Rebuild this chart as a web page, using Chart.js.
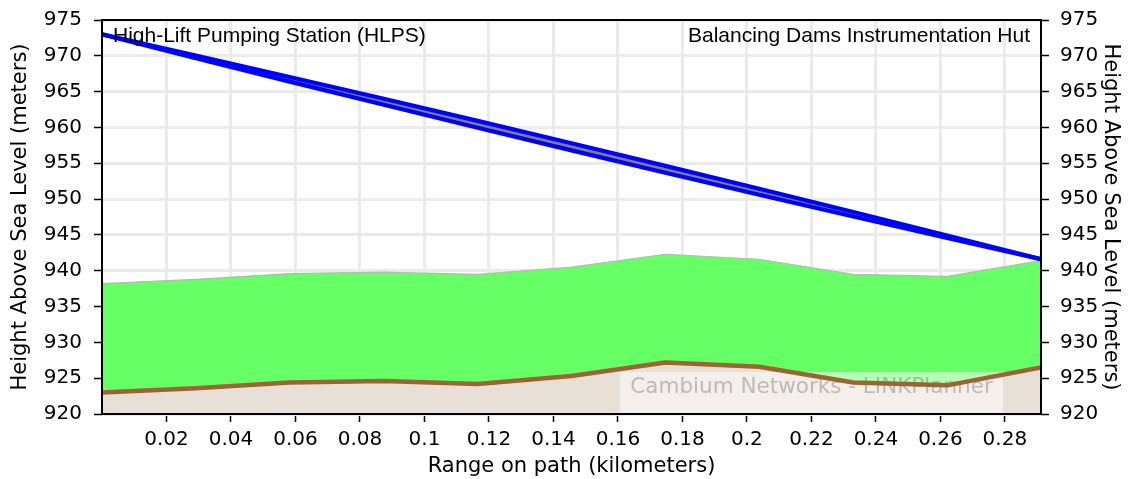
<!DOCTYPE html>
<html>
<head>
<meta charset="utf-8">
<script src="https://cdn.jsdelivr.net/npm/chart.js@4/dist/chart.umd.min.js"></script>
<style>
  html, body { margin: 0; padding: 0; background: #fff; }
  #wrap { width: 1131px; height: 479px; }
</style>
</head>
<body>
<div id="wrap"><canvas id="profile"></canvas></div>
<script>
// range along the path (km)
const rangeKm = [0, 0.0291, 0.0582, 0.0874, 0.1165, 0.1456, 0.1747, 0.2038, 0.2330, 0.2621, 0.2912];
// terrain height (m)
const terrain = [923.0, 923.6, 924.4, 924.6, 924.2, 925.3, 927.2, 926.6, 924.4, 924.0, 926.5];
// top of the green obstruction band (m)
const clutterTop = [938.2, 938.8, 939.6, 939.8, 939.5, 940.5, 942.3, 941.6, 939.5, 939.2, 941.4];
// line of sight band (m)
const losUpper = [973.0, 970.04, 967.04, 964.00, 960.92, 957.80, 954.64, 951.44, 948.20, 944.92, 941.60];
const losLower = [973.0, 969.68, 966.40, 963.16, 959.96, 956.80, 953.68, 950.60, 947.56, 944.56, 941.60];

const yTicks = [920, 925, 930, 935, 940, 945, 950, 955, 960, 965, 970, 975];
const xTickStep = 0.02;

const leftSite = 'High-Lift Pumping Station (HLPS)';
const rightSite = 'Balancing Dams Instrumentation Hut';
const watermark = 'Cambium Networks - LINKPlanner';

function pts(ys) {
  return ys.map((y, i) => ({ x: rangeKm[i], y: y }));
}

const tickFont = { family: 'DejaVu Sans', size: 20 };
const titleFont = { family: 'DejaVu Sans', size: 21 };
const yTitle = 'Height Above Sea Level (meters)';

// frame, site names and watermark box
const decor = {
  id: 'decor',
  beforeDatasetsDraw(chart) {
    const ctx = chart.ctx, a = chart.chartArea;
    const bx = a.right - 421, by = a.bottom - 42, bw = 383, bh = 42;
    ctx.save();
    ctx.fillStyle = 'rgba(255,255,255,0.5)';
    ctx.fillRect(bx, by, bw, bh);
    ctx.fillStyle = 'rgba(110,110,110,0.42)';
    ctx.font = '21.5px "DejaVu Sans"';
    ctx.textAlign = 'center';
    ctx.textBaseline = 'middle';
    ctx.fillText(watermark, bx + bw / 2, by + 15);
    ctx.restore();
  },
  afterDatasetsDraw(chart) {
    const ctx = chart.ctx, a = chart.chartArea;
    ctx.save();
    ctx.strokeStyle = '#000';
    ctx.lineWidth = 2;
    ctx.strokeRect(a.left, a.top, a.right - a.left, a.bottom - a.top);
    ctx.fillStyle = '#000';
    ctx.font = '21px "Liberation Sans", Arial, sans-serif';
    ctx.textBaseline = 'alphabetic';
    ctx.textAlign = 'left';
    ctx.fillText(leftSite, a.left + 11, a.top + 22);
    ctx.textAlign = 'right';
    ctx.fillText(rightSite, a.right - 11, a.top + 22);
    ctx.restore();
  }
};

function yAxis(pos) {
  return {
    type: 'linear',
    position: pos,
    min: 920,
    max: 975,
    afterBuildTicks: s => { s.ticks = yTicks.map(v => ({ value: v })); },
    afterFit: s => {
      s.width = pos === 'left' ? 102 : 90;
      s.paddingTop = 0;
      s.paddingBottom = 0;
    },
    ticks: { color: '#000', font: tickFont, padding: pos === 'left' ? 12 : 11 },
    grid: {
      display: true,
      drawOnChartArea: pos === 'left',
      color: '#ebebeb',
      lineWidth: 3,
      tickColor: '#000',
      tickWidth: 1.5,
      tickLength: 8
    },
    border: { display: false },
    title: {
      display: true,
      text: yTitle,
      color: '#000',
      font: titleFont,
      padding: { top: 8, bottom: 0 }
    }
  };
}

new Chart(document.getElementById('profile'), {
  type: 'line',
  data: {
    datasets: [
      {
        label: 'terrain',
        data: pts(terrain),
        borderColor: '#9b6433',
        borderWidth: 4.5,
        backgroundColor: '#e8dfd6',
        fill: 'start',
        order: 1,
        yAxisID: 'y'
      },
      {
        label: 'clutter',
        data: pts(clutterTop),
        borderColor: '#b8b8b8',
        borderWidth: 1.2,
        backgroundColor: '#66ff66',
        fill: 0,
        order: 2,
        yAxisID: 'y'
      },
      {
        label: 'los upper',
        data: pts(losUpper),
        borderColor: '#0000ff',
        borderWidth: 4.2,
        backgroundColor: '#808080',
        fill: 3,
        order: 0,
        yAxisID: 'y'
      },
      {
        label: 'los lower',
        data: pts(losLower),
        borderColor: '#0000ff',
        borderWidth: 4.2,
        fill: false,
        order: 0,
        yAxisID: 'y'
      }
    ]
  },
  options: {
    responsive: true,
    maintainAspectRatio: false,
    animation: false,
    layout: { padding: { top: 20, left: 0, right: 0, bottom: 0 } },
    elements: { point: { radius: 0 }, line: { tension: 0, borderJoinStyle: 'round' } },
    plugins: {
      legend: { display: false },
      tooltip: { enabled: false },
      filler: { drawTime: 'beforeDatasetsDraw' }
    },
    scales: {
      x: {
        type: 'linear',
        min: rangeKm[0],
        max: rangeKm[rangeKm.length - 1],
        afterBuildTicks: s => {
          const t = [];
          for (let k = 1; k * xTickStep < s.max; k++) t.push({ value: +(k * xTickStep).toFixed(2) });
          s.ticks = t;
        },
        afterFit: s => {
          s.height = 65;
          s.paddingLeft = 0;
          s.paddingRight = 0;
        },
        ticks: {
          color: '#000',
          font: tickFont,
          padding: 6,
          maxRotation: 0,
          autoSkip: false,
          callback: v => String(parseFloat(v.toFixed(2)))
        },
        grid: {
          color: '#ebebeb',
          lineWidth: 3,
          tickColor: '#000',
          tickWidth: 1.5,
          tickLength: 8
        },
        border: { display: false },
        title: {
          display: true,
          text: 'Range on path (kilometers)',
          color: '#000',
          font: titleFont,
          padding: { top: 0, bottom: 0 }
        }
      },
      y: yAxis('left'),
      y2: yAxis('right')
    }
  },
  plugins: [decor]
});
</script>
</body>
</html>
